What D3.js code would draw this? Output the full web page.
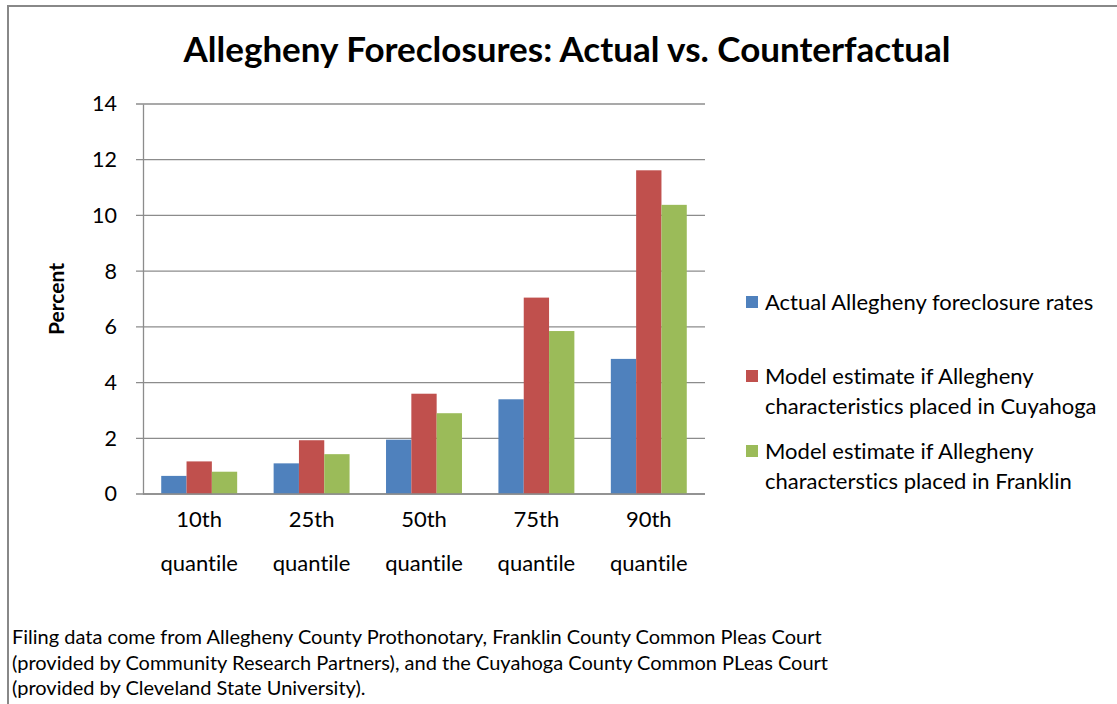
<!DOCTYPE html>
<html>
<head>
<meta charset="utf-8">
<script src="https://cdn.jsdelivr.net/npm/d3@7"></script>
<style>
  html, body { margin: 0; padding: 0; background: #fff; }
  svg { display: block; font-family: Lato, "Open Sans", sans-serif; font-variant-ligatures: none; }
</style>
</head>
<body>
<div id="chart"></div>
<script>
// data
const quantiles = ["10th quantile", "25th quantile", "50th quantile", "75th quantile", "90th quantile"];
const actualRates = [0.65, 1.1, 1.95, 3.4, 4.85];
const cuyahogaRates = [1.17, 1.93, 3.6, 7.05, 11.62];
const franklinRates = [0.8, 1.43, 2.9, 5.85, 10.38];
const seriesNames = [
  "Actual Allegheny foreclosure rates",
  "Model estimate if Allegheny characteristics placed in Cuyahoga",
  "Model estimate if Allegheny characterstics placed in Franklin"
];
const seriesColors = ["#4f81bd", "#c0504d", "#9bbb59"];
const yTicks = [0, 2, 4, 6, 8, 10, 12, 14];
const footnote = [
  "Filing data come from Allegheny County Prothonotary, Franklin County Common Pleas Court",
  "(provided by Community Research Partners), and the Cuyahoga County Common PLeas Court",
  "(provided by Cleveland State University)."
];

const W = 1117, H = 704;
const plot = { left: 143, right: 705, top: 104, bottom: 494 };

const svg = d3.select("#chart").append("svg")
  .attr("width", W)
  .attr("height", H);

// outer chart border
svg.append("path")
  .attr("d", `M8,${H} L8,6 L${W},6`)
  .attr("fill", "none")
  .attr("stroke", "#888")
  .attr("stroke-width", 2);

svg.append("text")
  .attr("x", 567)
  .attr("y", 62)
  .attr("text-anchor", "middle")
  .style("font-size", "35px")
  .style("font-weight", "bold")
  .text("Allegheny Foreclosures: Actual vs. Counterfactual");

const x = d3.scaleBand()
  .domain(quantiles)
  .range([plot.left, plot.right]);

const groupWidth = x.bandwidth() / 1.48;
const xs = d3.scaleBand()
  .domain(d3.range(3))
  .range([0, groupWidth]);

const y = d3.scaleLinear()
  .domain([0, 14])
  .range([plot.bottom, plot.top]);

// gridlines
svg.append("g")
  .selectAll("line")
  .data(yTicks)
  .join("line")
  .attr("x1", plot.left - 7)
  .attr("x2", plot.right)
  .attr("y1", d => y(d))
  .attr("y2", d => y(d))
  .attr("stroke", "#8c8c8c")
  .attr("stroke-width", 1.3);

const yAxis = svg.append("g")
  .attr("transform", `translate(${plot.left},0)`)
  .call(d3.axisLeft(y).tickValues(yTicks).tickSize(0).tickPadding(26));
yAxis.select(".domain").attr("stroke", "#8c8c8c").attr("stroke-width", 1.3);
yAxis.selectAll("text")
  .style("font-size", "21.5px")
  .style("font-family", "Lato, sans-serif")
  .attr("fill", "#000");

svg.append("text")
  .attr("transform", "translate(64,299) rotate(-90)")
  .attr("text-anchor", "middle")
  .style("font-size", "21px")
  .style("font-weight", "bold")
  .text("Percent");

// bars
const allSeries = [actualRates, cuyahogaRates, franklinRates];
const groups = svg.append("g")
  .selectAll("g")
  .data(quantiles)
  .join("g")
  .attr("transform", d => `translate(${x(d) + (x.bandwidth() - groupWidth) / 2},0)`);

groups.selectAll("rect")
  .data((d, i) => allSeries.map((s, k) => ({ k, v: s[i] })))
  .join("rect")
  .attr("x", d => xs(d.k))
  .attr("y", d => y(d.v))
  .attr("width", xs.bandwidth())
  .attr("height", d => y(0) - y(d.v))
  .attr("fill", d => seriesColors[d.k]);

// x axis line on top of bars
svg.append("line")
  .attr("x1", plot.left)
  .attr("x2", plot.right)
  .attr("y1", y(0))
  .attr("y2", y(0))
  .attr("stroke", "#8c8c8c")
  .attr("stroke-width", 1.3);

// category labels, two lines each
const xl = svg.append("g")
  .selectAll("text")
  .data(quantiles)
  .join("text")
  .attr("x", d => x(d) + x.bandwidth() / 2)
  .attr("y", 527)
  .attr("text-anchor", "middle")
  .style("font-size", "22px");
xl.selectAll("tspan")
  .data(d => d.split(" "))
  .join("tspan")
  .attr("x", function() { return d3.select(this.parentNode).attr("x"); })
  .attr("dy", (d, i) => i === 0 ? 0 : 44)
  .text(d => d);

// legend
const legendLines = [
  ["Actual Allegheny foreclosure rates"],
  ["Model estimate if Allegheny", "characteristics placed in Cuyahoga"],
  ["Model estimate if Allegheny", "characterstics placed in Franklin"]
];
const legendY = [302, 376, 451];
const legend = svg.append("g")
  .selectAll("g")
  .data(seriesNames)
  .join("g")
  .attr("transform", (d, i) => `translate(746,${legendY[i]})`);
legend.append("rect")
  .attr("x", 0)
  .attr("y", -6)
  .attr("width", 12)
  .attr("height", 12)
  .attr("fill", (d, i) => seriesColors[i]);
legend.append("text")
  .style("font-size", "22px")
  .selectAll("tspan")
  .data((d, i) => legendLines[i])
  .join("tspan")
  .attr("x", 19)
  .attr("y", (d, i) => 8 + i * 30)
  .text(d => d);

// footnote
svg.append("g")
  .selectAll("text")
  .data(footnote)
  .join("text")
  .attr("x", 12)
  .attr("y", (d, i) => 644 + i * 25.5)
  .style("font-size", "20px")
  .text(d => d);
</script>
</body>
</html>
